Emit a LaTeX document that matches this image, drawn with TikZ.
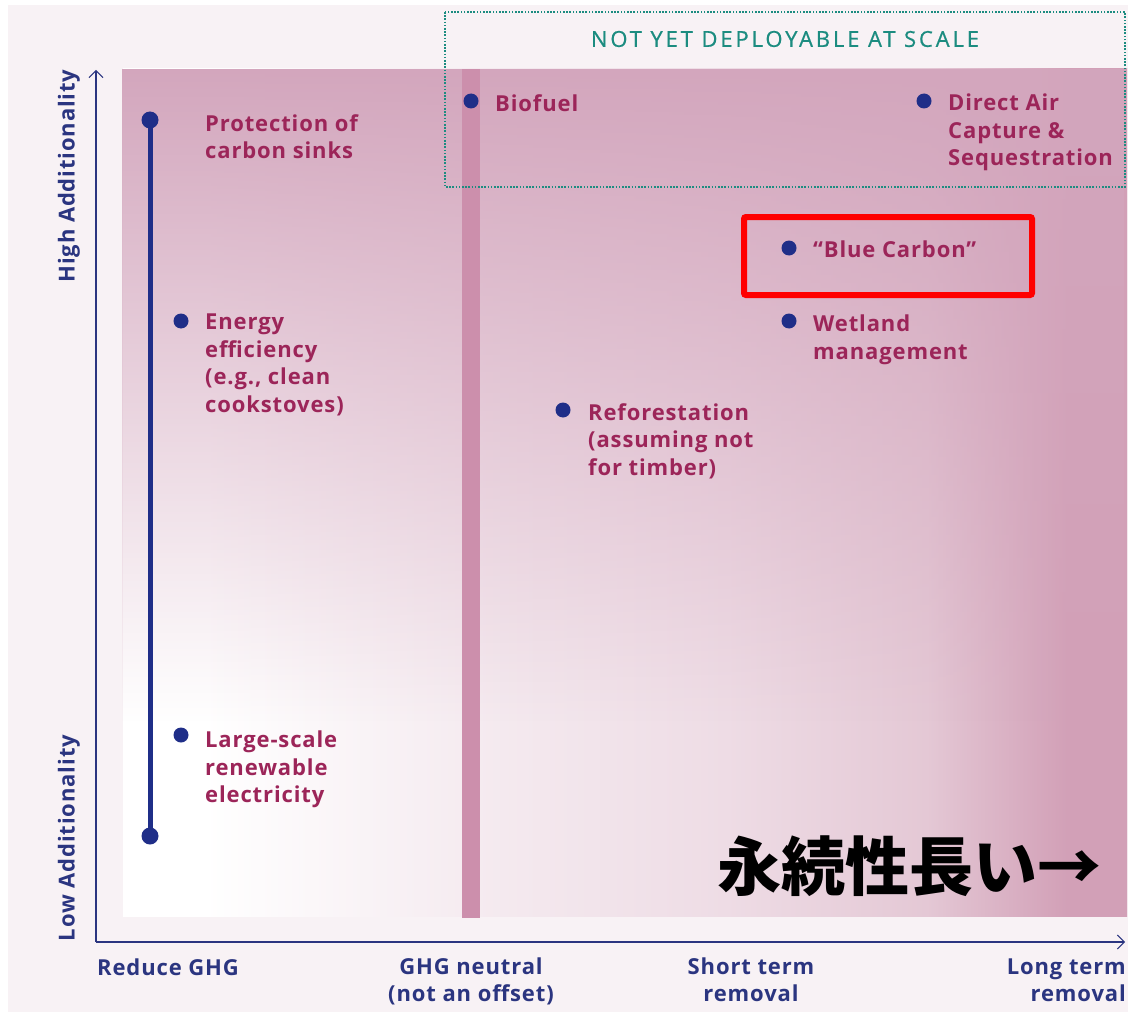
\documentclass[tikz,border=0pt]{standalone}
\usepackage{fontspec}
\setmainfont{Open Sans}[LetterSpace=4]
\newfontfamily\cjk{Noto Sans CJK JP}
\usetikzlibrary{arrows.meta,fadings}
\definecolor{navy}{HTML}{2B3580}
\definecolor{dotblue}{HTML}{1F2E88}
\definecolor{lab}{HTML}{9C2559}
\definecolor{teal}{HTML}{1C8C80}
\definecolor{bgpale}{HTML}{F8F2F5}
\definecolor{pinkR}{HTML}{D2A0B7}
\definecolor{pinkT}{HTML}{D3A6BD}
\definecolor{band}{HTML}{CC8FAC}
\definecolor{hsA}{HTML}{F5EBF0}
\definecolor{hsB}{HTML}{EEDCE5}
\definecolor{hsC}{HTML}{E4C8D5}
% stops mapped into the 25bp..75bp range that TikZ fits to the path
\pgfdeclarehorizontalshading{hshade}{100bp}{color(0bp)=(white); color(29bp)=(white); color(42.5bp)=(hsA); color(55bp)=(hsB); color(65bp)=(hsC); color(72bp)=(pinkR); color(100bp)=(pinkR)}
\pgfdeclareverticalshading{vfadeshade}{100bp}{color(0bp)=(transparent!100); color(36.5bp)=(transparent!100); color(43.5bp)=(transparent!82); color(55.5bp)=(transparent!51); color(67bp)=(transparent!21); color(75bp)=(transparent!0); color(100bp)=(transparent!0)}
\tikzfading[name=topfade, shading=vfadeshade]
\tikzset{
  lbl/.style={anchor=north west, inner sep=0pt, align=left, text=lab,
    font=\bfseries\fontsize{22}{27.5}\selectfont},
  axlbl/.style={inner sep=0pt, align=center, text=navy,
    font=\bfseries\fontsize{22}{26.5}\selectfont},
  pt/.style={circle, fill=dotblue, inner sep=0pt, minimum size=15pt},
  axis/.style={draw=navy, line width=1.2pt, -{Straight Barb[length=7pt,width=14pt,line width=1pt]}}
}
\begin{document}
\begin{tikzpicture}[x=1pt,y=-1pt]
\useasboundingbox (0,0) rectangle (1130,1014);
\fill[white] (0,0) rectangle (1130,1014);
\fill[bgpale] (8,5) rectangle (1128,1012);
% plot area
\fill[white] (123,69) rectangle (1127,916);
\shade[shading=hshade] (123,69) rectangle (1127,916);
\fill[pinkT, path fading=topfade] (123,69) rectangle (1127,916);
\fill[band] (462,69) rectangle (480,918);
% not yet deployable box
\draw[teal, line width=2pt, dash pattern=on 1.6pt off 1.6pt] (445,12) rectangle (1125,187);
\node[text=teal, font=\addfontfeature{LetterSpace=13,FakeBold=0.6}\fontsize{22}{25}\selectfont, inner sep=0pt] (nyd) at (785,39) {NOT YET DEPLOYABLE AT SCALE};
% axes
\coordinate (o) at (96,942);
\coordinate (ytop) at (96,70);
\coordinate (xend) at (1125,942);
\draw[axis] (o) -- (ytop);
\draw[axis] (o) -- (xend);
\node[axlbl, rotate=90] (hi) at (69,176) {High Additionality};
\node[axlbl, rotate=90] (lo) at (69,838) {Low Additionality};
\node[axlbl, anchor=base west] (x1) at (97,975) {Reduce GHG};
\node[axlbl, anchor=base] (x2) at (471,1001) {GHG neutral\\(not an offset)};
\node[axlbl, anchor=base] (x3) at (751,1001) {Short term\\removal};
\node[axlbl, anchor=base east, align=right] (x4) at (1126,1001) {Long term\\removal};
% range line
\node[pt, minimum size=17pt] (r1) at (150,120) {};
\node[pt, minimum size=17pt] (r2) at (150,836) {};
\draw[dotblue, line width=5pt] (r1.center) -- (r2.center);
% points
\node[pt] (p2) at (181,321) {};
\node[pt] (p3) at (181,735) {};
\node[pt] (p4) at (471,101) {};
\node[pt] (p5) at (924,101) {};
\node[pt] (p6) at (789,248) {};
\node[pt] (p7) at (789,321) {};
\node[pt] (p8) at (563,410) {};
% labels
\node[lbl] (t1) at (205,114) {Protection of\\carbon sinks};
\node[lbl] (t2) at (205,314) {Energy\\efficiency\\(e.g., clean\\cookstoves)};
\node[lbl] (t3) at (205,731) {Large-scale\\renewable\\electricity};
\node[lbl] (t4) at (495,94) {Biofuel};
\node[lbl] (t5) at (948,94) {Direct Air\\Capture \&\\Sequestration};
\node[lbl] (t6) at (813,241) {“Blue Carbon”};
\node[lbl] (t7) at (813,315) {Wetland\\management};
\node[lbl] (t8) at (588,403) {Reforestation\\(assuming not\\for timber)};
% highlight
\draw[red, line width=6pt, rounded corners=2pt] (744,217) rectangle (1032,295);
\node[font=\cjk\bfseries\fontsize{64}{64}\selectfont, text=black, inner sep=0pt, anchor=east] (jp) at (1102,866) {永続性長い→};
\end{tikzpicture}
\end{document}
